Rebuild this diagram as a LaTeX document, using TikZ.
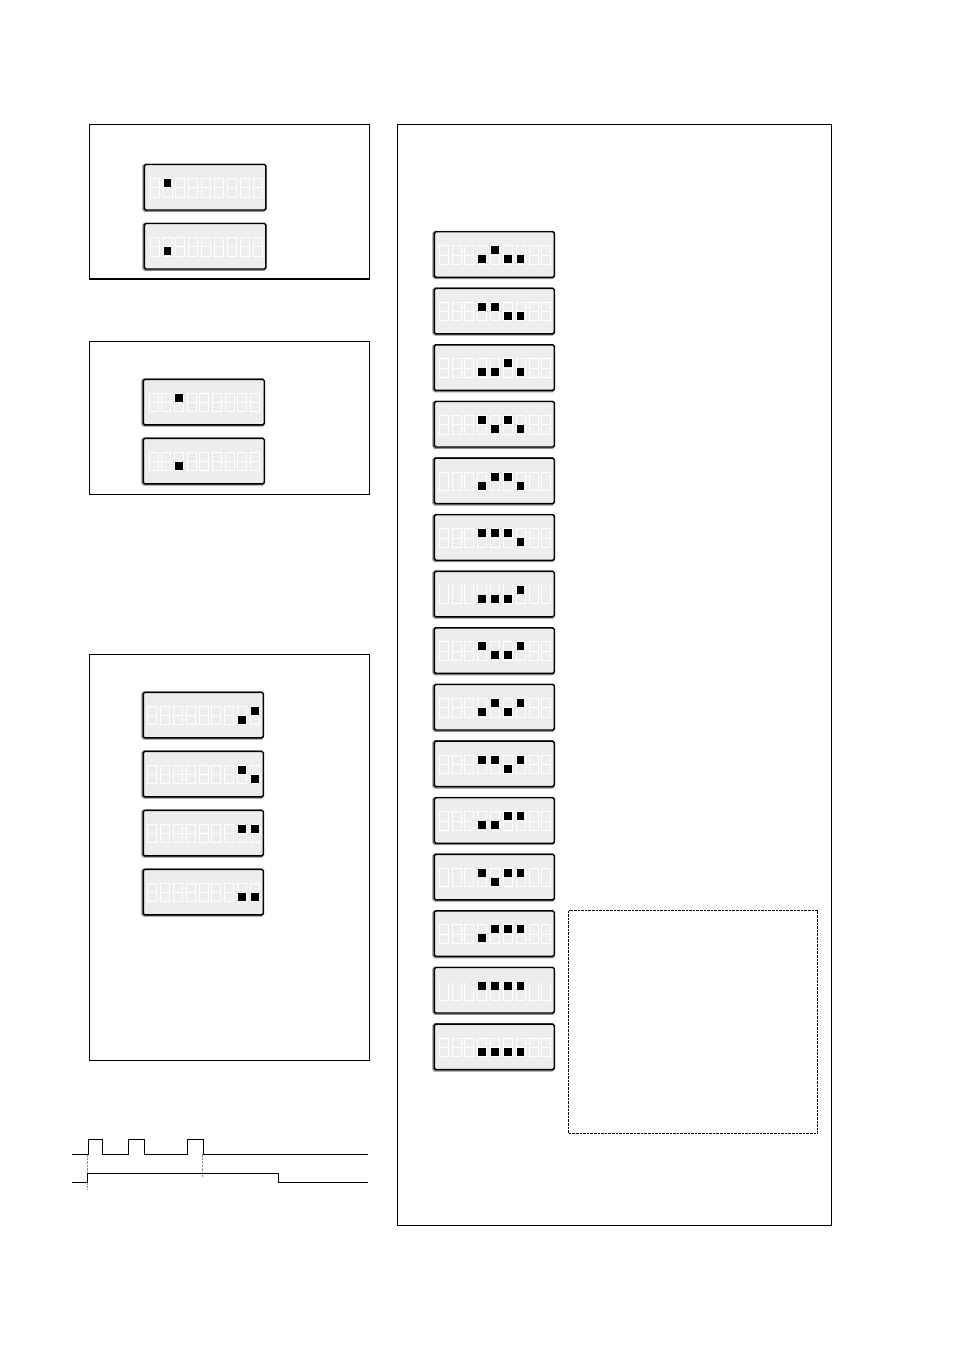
\documentclass[tikz,border=0pt]{standalone}
\usepackage{tikz}
\tikzset{
	frameline/.style={line width=0.9pt, color=black},
	waveline/.style={line width=1pt, color=black},
	guideline/.style={line width=0.6pt, color=black!45, dash pattern=on 2.5pt off 1pt},
}
\def\up{14.5}
\def\dn{23.5}
% the three ways a blank digit shows on the panel
\def\digiteight#1{\draw[line width=1pt, color=white] (#1-4.5, 14) rectangle (#1+4.5, 32.5); \draw[line width=1pt, color=white] (#1-4.5, 23.3) -- (#1+4.5, 23.3);}
\def\digitzero#1{\draw[line width=1pt, color=white] (#1-4.5, 14) rectangle (#1+4.5, 32.5);}
\def\digitcup#1{\draw[line width=1pt, color=white] (#1-4.5, 14) -- (#1-4.5, 32.5) -- (#1+4.5, 32.5) -- (#1+4.5, 14);}
% [digit](left, top)(width:first digit:digit step){digit/row of each dot}
\def\lcdpanel[#1](#2,#3)(#4:#5:#6)#7{
	\begin{scope}[shift={(#2,#3)}]
		\draw[line width=2.4pt, color=black!45, rounded corners=1.5pt] (-0.8, 0.3) rectangle (#4-0.6, 46.2);
		\draw[line width=1.4pt, color=black, fill=black!7, rounded corners=1.5pt] (0, 0) rectangle (#4, 45.5);
		\foreach \d in {0,...,8}{
			\pgfmathsetmacro{\cx}{#5+\d*#6}
			#1{\cx}
		}
		\foreach \d/\r in {#7}{
			\pgfmathsetmacro{\cx}{#5+\d*#6}
			\fill[black] (\cx-3.8, \r) rectangle (\cx+3.8, \r+8);
		}
	\end{scope}
}

\begin{document}
\begin{tikzpicture}[x=1pt, y=-1pt]
	\useasboundingbox (0, 0) rectangle (954, 1350);
	%%%%% START %%%%%

	\draw[frameline] (89.5, 124.5) rectangle (369.5, 278.5);
	\draw[line width=1.8pt] (89, 279) -- (370, 279);
	\lcdpanel[\digiteight](144.3,164.5)(121.5:10.5:12.84){1/\up}
	\lcdpanel[\digiteight](144.3,223.5)(121.5:10.5:12.84){1/\dn}

	\draw[frameline] (89.5, 341.5) rectangle (369.5, 494.5);
	\lcdpanel[\digiteight](143.3,379.3)(121:10.5:12.65){2/\up}
	\lcdpanel[\digiteight](143.3,438.3)(121:10.5:12.65){2/\dn}

	\draw[frameline] (89.5, 654.5) rectangle (369.5, 1060.5);
	\lcdpanel[\digiteight](143.3,692.3)(120:9:12.8){7/\dn,8/\up}
	\lcdpanel[\digiteight](143.3,751.3)(120:9:12.8){7/\up,8/\dn}
	\lcdpanel[\digiteight](143.3,810.3)(120:9:12.8){7/\up,8/\up}
	\lcdpanel[\digiteight](143.3,869.3)(120:9:12.8){7/\dn,8/\dn}

	\draw[frameline] (397.5, 124.5) rectangle (831.5, 1225.5);
	\lcdpanel[\digiteight](434.3,231.7)(120:9.4:12.83){3/\dn,4/\up,5/\dn,6/\dn}
	\lcdpanel[\digiteight](434.3,288.3)(120:9.4:12.83){3/\up,4/\up,5/\dn,6/\dn}
	\lcdpanel[\digiteight](434.3,344.9)(120:9.4:12.83){3/\dn,4/\dn,5/\up,6/\dn}
	\lcdpanel[\digiteight](434.3,401.5)(120:9.4:12.83){3/\up,4/\dn,5/\up,6/\dn}
	\lcdpanel[\digitzero](434.3,458.1)(120:9.4:12.83){3/\dn,4/\up,5/\up,6/\dn}
	\lcdpanel[\digiteight](434.3,514.7)(120:9.4:12.83){3/\up,4/\up,5/\up,6/\dn}
	\lcdpanel[\digitcup](434.3,571.3)(120:9.4:12.83){3/\dn,4/\dn,5/\dn,6/\up}
	\lcdpanel[\digiteight](434.3,627.9)(120:9.4:12.83){3/\up,4/\dn,5/\dn,6/\up}
	\lcdpanel[\digiteight](434.3,684.5)(120:9.4:12.83){3/\dn,4/\up,5/\dn,6/\up}
	\lcdpanel[\digiteight](434.3,741.1)(120:9.4:12.83){3/\up,4/\up,5/\dn,6/\up}
	\lcdpanel[\digiteight](434.3,797.7)(120:9.4:12.83){3/\dn,4/\dn,5/\up,6/\up}
	\lcdpanel[\digitzero](434.3,854.3)(120:9.4:12.83){3/\up,4/\dn,5/\up,6/\up}
	\lcdpanel[\digiteight](434.3,910.9)(120:9.4:12.83){3/\dn,4/\up,5/\up,6/\up}
	\lcdpanel[\digitcup](434.3,967.5)(120:9.4:12.83){3/\up,4/\up,5/\up,6/\up}
	\lcdpanel[\digiteight](434.3,1024.1)(120:9.4:12.83){3/\dn,4/\dn,5/\dn,6/\dn}

	\draw[line width=0.8pt, dash pattern=on 2.6pt off 1pt] (568.5, 910.5) rectangle (817.5, 1133.5);

	% key and display lines
	\draw[guideline] (87.3, 1154) -- (87.3, 1190);
	\draw[guideline] (202.7, 1154) -- (202.7, 1177);
	\draw[waveline] (72, 1154) -- (88, 1154) -- (88, 1139.5) -- (102.7, 1139.5) -- (102.7, 1154) -- (128.5, 1154) -- (128.5, 1139.5) -- (144, 1139.5) -- (144, 1154) -- (187.8, 1154) -- (187.8, 1139.5) -- (203.3, 1139.5) -- (203.3, 1154) -- (368, 1154);
	\draw[waveline] (72, 1182.3) -- (87.8, 1182.3) -- (87.8, 1173.3) -- (278.5, 1173.3) -- (278.5, 1182.3) -- (368, 1182.3);

	%%%%% END %%%%%
\end{tikzpicture}
\end{document}
